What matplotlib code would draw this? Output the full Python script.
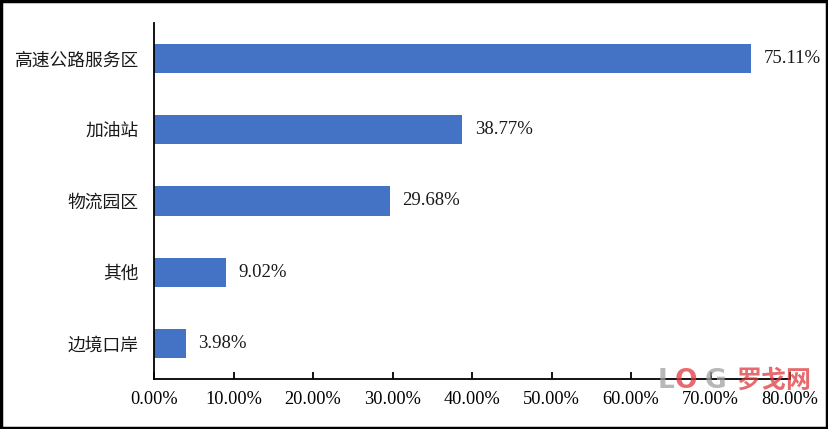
import matplotlib as mpl
mpl.use('Agg')
import matplotlib.pyplot as plt
from matplotlib.patches import Rectangle
from matplotlib.ticker import MultipleLocator, FuncFormatter

categories = ['高速公路服务区', '加油站', '物流园区', '其他', '边境口岸']
values = [75.11, 38.77, 29.68, 9.02, 3.98]

BAR_COLOR = '#4472C4'
TEXT_COLOR = '#1a1a1a'
CJK = ['Noto Sans CJK SC', 'DejaVu Sans']
SERIF = 'Liberation Serif'

fig = plt.figure(figsize=(8.29, 4.29), dpi=100)
ax = fig.add_axes([0.1858, 0.1166, 0.953 - 0.1858, 0.9464 - 0.1166])

# top category first
ypos = list(range(len(categories)))[::-1]
ax.barh(ypos, values, height=0.41, color=BAR_COLOR, zorder=2)

for y, v in zip(ypos, values):
    ax.annotate(f'{v:.2f}%', (v, y), xytext=(9, 0), textcoords='offset points',
                va='center', ha='left', fontsize=13.5, family=SERIF,
                color=TEXT_COLOR)

ax.set_xlim(0, 80)
ax.set_ylim(-0.5, len(categories) - 0.5)
ax.set_yticks(ypos)
ax.set_yticklabels(categories, family=CJK, fontsize=12.8, color=TEXT_COLOR)
ax.tick_params(axis='y', length=0, pad=11)

ax.xaxis.set_major_locator(MultipleLocator(10))
ax.xaxis.set_major_formatter(FuncFormatter(lambda x, p: f'{x:.2f}%'))
ax.tick_params(axis='x', direction='in', length=5, width=1.3, pad=9,
               labelsize=13.2, labelcolor='black')
for lab in ax.get_xticklabels():
    lab.set_family(SERIF)

for s in ['top', 'right']:
    ax.spines[s].set_visible(False)
ax.spines['left'].set_linewidth(1.3)
ax.spines['bottom'].set_linewidth(1.3)

# watermark in the lower right corner, kept just above the tick labels
wm_y = 0.112
fig.text(0.793, wm_y, 'L', fontsize=19, fontweight='bold', color='#a0a0a0',
         alpha=0.75, family='DejaVu Sans', ha='left', va='center')
fig.text(0.814, wm_y, 'O', fontsize=19, fontweight='bold', color='#e03a3e',
         alpha=0.75, family='DejaVu Sans', ha='left', va='center')
fig.text(0.850, wm_y, 'G', fontsize=19, fontweight='bold', color='#a0a0a0',
         alpha=0.75, family='DejaVu Sans', ha='left', va='center')
fig.text(0.888, wm_y, '罗戈网', fontsize=18, fontweight='bold', color='#e03a3e',
         alpha=0.75, family=CJK, ha='left', va='center')

# frame round the whole figure
fig.add_artist(Rectangle((0.0015, 0.003), 0.996, 0.994, transform=fig.transFigure,
                         fill=False, edgecolor='black', linewidth=2.5))

fig.savefig('out.png', dpi=100)
